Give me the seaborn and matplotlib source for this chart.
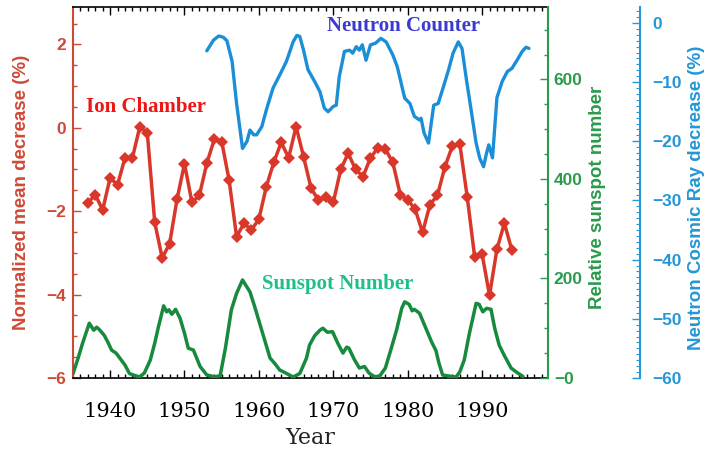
import matplotlib
matplotlib.use("Agg")
import matplotlib.pyplot as plt
import seaborn as sns
import pandas as pd
from matplotlib.ticker import MultipleLocator, FuncFormatter

# Ion chamber: normalized mean decrease (%), one value per year
ion_years = list(range(1937, 1995))
ion_decrease = [
    -1.81, -1.60, -1.97, -1.20, -1.37, -0.72, -0.72, 0.03, -0.12, -2.27,
    -3.12, -2.78, -1.71, -0.86, -1.79, -1.62, -0.85, -0.28, -0.33, -1.26,
    -2.61, -2.29, -2.45, -2.19, -1.41, -0.83, -0.35, -0.72, 0.03, -0.69,
    -1.44, -1.74, -1.66, -1.79, -1.00, -0.61, -1.00, -1.17, -0.72, -0.48,
    -0.51, -0.83, -1.60, -1.73, -1.95, -2.51, -1.84, -1.62, -0.94, -0.44,
    -0.38, -1.65, -3.09, -3.02, -4.02, -2.91, -2.29, -2.93,
]

# Neutron monitor: cosmic ray decrease (%)
neutron_years = [
    1953.0, 1953.9, 1954.6, 1955.2, 1955.7, 1956.4, 1957.0, 1957.8, 1958.4, 1958.8,
    1959.3, 1959.7, 1960.4, 1961.0, 1961.9, 1962.8, 1963.7, 1964.6, 1965.1, 1965.5,
    1966.0, 1966.6, 1967.5, 1968.2, 1968.8, 1969.3, 1970.0, 1970.4, 1970.8, 1971.5,
    1972.2, 1972.6, 1973.1, 1973.5, 1973.9, 1974.4, 1975.0, 1975.7, 1976.4, 1977.1,
    1978.0, 1978.6, 1979.6, 1980.3, 1980.9, 1981.6, 1981.8, 1982.2, 1982.8, 1983.5,
    1984.1, 1984.8, 1985.5, 1986.1, 1986.8, 1987.3, 1987.9, 1988.6, 1989.2, 1989.7,
    1990.2, 1990.6, 1990.9, 1991.4, 1992.0, 1992.7, 1993.4, 1994.0, 1994.7, 1995.4,
    1995.9, 1996.3,
]
neutron_decrease = [
    -4.7, -2.9, -2.2, -2.4, -3.0, -6.5, -13.6, -21.2, -20.0, -18.1,
    -18.9, -18.9, -17.5, -14.7, -11.0, -8.8, -6.5, -3.2, -2.1, -2.3,
    -4.6, -7.9, -9.9, -11.6, -14.4, -15.0, -14.1, -13.9, -9.1, -4.8,
    -4.6, -5.1, -4.0, -4.6, -3.7, -6.3, -3.7, -3.4, -2.6, -3.2,
    -5.4, -7.4, -12.7, -13.6, -15.8, -16.4, -16.1, -18.6, -20.3, -13.9,
    -13.6, -10.8, -7.9, -5.1, -3.2, -4.3, -9.6, -15.3, -20.3, -22.9,
    -24.3, -22.0, -20.6, -22.8, -12.6, -9.9, -8.2, -7.7, -6.3, -4.8,
    -4.1, -4.3,
]

# Smoothed relative sunspot number
sunspot_years = [
    1935.0, 1935.7, 1936.3, 1937.2, 1937.8, 1938.2, 1938.5, 1939.2, 1939.7, 1940.2,
    1940.8, 1941.5, 1942.0, 1942.6, 1943.3, 1944.0, 1944.6, 1945.4, 1946.0, 1946.5,
    1947.2, 1947.6, 1947.9, 1948.3, 1948.8, 1949.4, 1950.0, 1950.5, 1951.2, 1952.1,
    1953.0, 1953.6, 1954.1, 1954.8, 1955.5, 1956.3, 1957.0, 1957.8, 1958.3, 1958.8,
    1959.4, 1960.1, 1960.8, 1961.5, 1962.2, 1962.8, 1963.6, 1964.6, 1965.5, 1966.4,
    1966.8, 1967.5, 1968.2, 1968.6, 1969.2, 1969.9, 1970.6, 1971.3, 1971.8, 1972.1,
    1972.8, 1973.5, 1974.2, 1974.8, 1975.5, 1976.2, 1977.0, 1977.8, 1978.5, 1979.2,
    1979.6, 1980.2, 1980.6, 1980.9, 1981.6, 1982.3, 1983.2, 1983.8, 1984.2, 1984.7,
    1985.5, 1986.5, 1987.0, 1987.6, 1988.3, 1989.2, 1989.6, 1990.1, 1990.6, 1991.2,
    1991.7, 1992.3, 1993.0, 1993.9, 1994.6, 1995.5,
]
sunspot_number = [
    8, 40, 70, 110, 96, 102, 98, 86, 72, 56,
    50, 36, 26, 9, 5, 2, 10, 36, 70, 103,
    145, 133, 137, 128, 138, 120, 90, 60, 56, 23,
    6, 4, 2, 5, 60, 137, 170, 197, 185, 173,
    145, 110, 75, 40, 28, 16, 10, 2, 9, 40,
    66, 85, 96, 100, 92, 93, 70, 50, 62, 60,
    38, 20, 23, 10, 3, 3, 20, 60, 96, 140,
    153, 148, 135, 138, 130, 105, 73, 55, 30, 6,
    4, 2, 12, 36, 90, 150, 148, 133, 140, 138,
    100, 66, 45, 20, 12, 3,
]

year_ticks = [1940, 1950, 1960, 1970, 1980, 1990]

RED_AXIS = "#cf4a36"
RED_LINE = "#d8372a"
GREEN_AXIS = "#2a9a4c"
GREEN_LINE = "#178a3e"
BLUE_AXIS = "#2596d6"
BLUE_LINE = "#1a8fd8"

sns.set_style("white")
plt.rcParams["font.family"] = ["Liberation Sans", "DejaVu Sans"]

fig = plt.figure(figsize=(7.06, 4.53), dpi=100)
ax = fig.add_axes([0.1038, 0.1656, 0.6728, 0.8183])
ax2 = ax.twinx()
ax3 = ax.twinx()

ion_df = pd.DataFrame({"year": ion_years, "value": ion_decrease})
sun_df = pd.DataFrame({"year": sunspot_years, "value": sunspot_number})
neu_df = pd.DataFrame({"year": neutron_years, "value": neutron_decrease})

sns.lineplot(data=ion_df, x="year", y="value", ax=ax, color=RED_LINE,
             linewidth=2.5, marker="D", markersize=6.5, markeredgewidth=0)
sns.lineplot(data=sun_df, x="year", y="value", ax=ax2, color=GREEN_LINE,
             linewidth=2.5)
sns.lineplot(data=neu_df, x="year", y="value", ax=ax3, color=BLUE_LINE,
             linewidth=2.4)

# Shared year axis
ax.set_xlim(1935.05, 1998.9)
ax.set_xticks(year_ticks)
ax.xaxis.set_minor_locator(MultipleLocator(1))
ax.tick_params(axis="x", which="both", direction="in", top=True, bottom=True,
               colors="black", labelsize=15, pad=17)
ax.tick_params(axis="x", which="major", length=6, width=1)
ax.tick_params(axis="x", which="minor", length=3, width=1)
for lab in ax.get_xticklabels():
    lab.set_fontfamily("DejaVu Serif")
ax.set_xlabel("Year", fontsize=16, fontfamily="DejaVu Serif", color="#222222")
ax.xaxis.label.set_va("center")
ax.xaxis.set_label_coords(0.498, -0.162)

# Left axis: ion chamber
ax.set_ylim(-6, 2.89)
ax.yaxis.set_major_locator(MultipleLocator(2))
ax.yaxis.set_minor_locator(MultipleLocator(0.5))
ax.tick_params(axis="y", which="both", direction="in", colors=RED_AXIS,
               labelsize=12.5, pad=5)
ax.tick_params(axis="y", which="major", length=6, width=1)
ax.tick_params(axis="y", which="minor", length=3, width=1)
for lab in ax.get_yticklabels():
    lab.set_fontweight("bold")
ax.set_ylabel("Normalized mean decrease (%)", color=RED_AXIS, fontsize=13.5,
              fontweight="bold")
ax.yaxis.label.set_va("center")
ax.yaxis.set_label_coords(-0.108, 0.5)

for side in ["top", "bottom"]:
    ax.spines[side].set_color("black")
    ax.spines[side].set_linewidth(1.2)
ax.spines["left"].set_color(RED_AXIS)
ax.spines["left"].set_linewidth(1.5)
ax.spines["right"].set_visible(False)

# Right axis: sunspot number
ax2.set_ylim(0, 745)
ax2.yaxis.set_major_locator(MultipleLocator(200))
ax2.yaxis.set_minor_locator(MultipleLocator(50))
ax2.yaxis.set_major_formatter(FuncFormatter(lambda v, p: "\u22120" if v == 0 else f"{v:.0f}"))
ax2.tick_params(axis="y", which="both", direction="in", colors=GREEN_AXIS,
                labelsize=12.5, pad=4)
ax2.tick_params(axis="y", which="major", length=6, width=1)
ax2.tick_params(axis="y", which="minor", length=3, width=1)
for lab in ax2.get_yticklabels():
    lab.set_fontweight("bold")
ax2.set_ylabel("Relative sunspot number", color=GREEN_AXIS, fontsize=13.5,
               fontweight="bold", rotation=90)
ax2.yaxis.label.set_va("center")
ax2.yaxis.set_label_coords(1.1046, 0.488)
for side in ["left", "top", "bottom"]:
    ax2.spines[side].set_visible(False)
ax2.spines["right"].set_color(GREEN_AXIS)
ax2.spines["right"].set_linewidth(1.5)

# Outer right axis: neutron counter
ax3.set_ylim(-60, 2.65)
ax3.spines["right"].set_position(("axes", 1.193))
ax3.yaxis.set_major_locator(MultipleLocator(10))
ax3.yaxis.set_minor_locator(MultipleLocator(1))
ax3.tick_params(axis="y", which="both", direction="in", colors=BLUE_AXIS,
                labelsize=12.5, pad=9)
ax3.tick_params(axis="y", which="major", length=6, width=1)
ax3.tick_params(axis="y", which="minor", length=3, width=0.8)
for lab in ax3.get_yticklabels():
    lab.set_fontweight("bold")
ax3.set_ylabel("Neutron Cosmic Ray decrease (%)", color=BLUE_AXIS, fontsize=13.5,
               fontweight="bold", rotation=90)
ax3.yaxis.label.set_va("center")
ax3.yaxis.set_label_coords(1.313, 0.486)
for side in ["left", "top", "bottom"]:
    ax3.spines[side].set_visible(False)
ax3.spines["right"].set_color(BLUE_AXIS)
ax3.spines["right"].set_linewidth(1.5)

# Series names
ax.text(1936.8, 0.49, "Ion Chamber", color="#ee1515", fontsize=15,
        fontweight="bold", fontfamily="Liberation Serif", ha="left", va="center")
ax.text(1969.2, 2.44, "Neutron Counter", color="#3b3bcf", fontsize=15,
        fontweight="bold", fontfamily="Liberation Serif", ha="left", va="center")
ax.text(1960.4, -3.74, "Sunspot Number", color="#1fbf8a", fontsize=15,
        fontweight="bold", fontfamily="Liberation Serif", ha="left", va="center")

fig.savefig("out.png", dpi=100)
